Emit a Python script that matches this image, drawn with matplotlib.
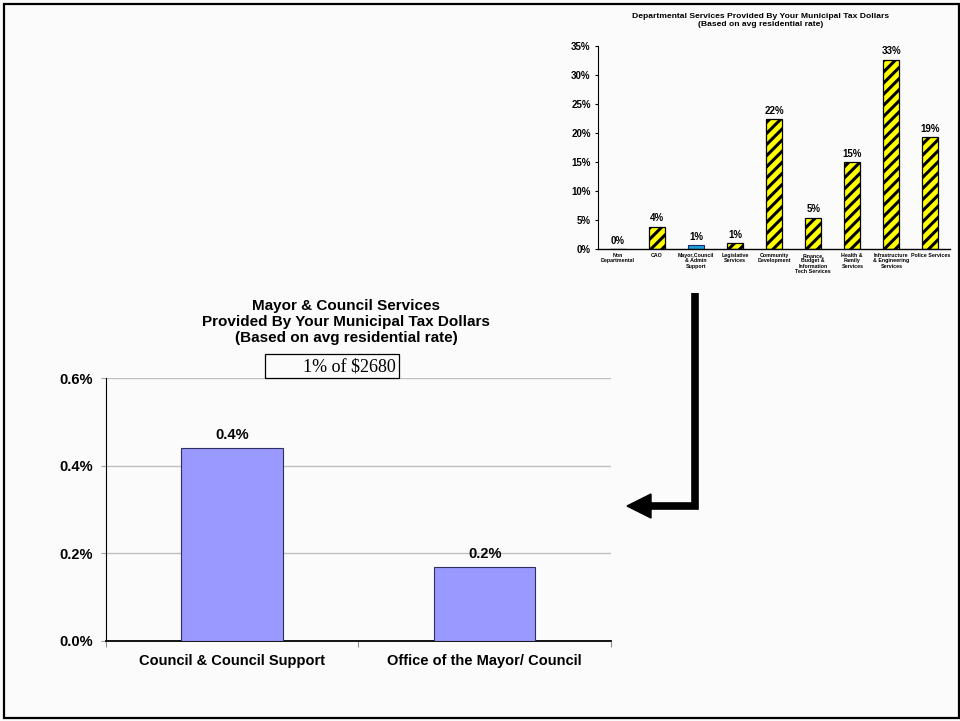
import matplotlib
matplotlib.use("Agg")
import matplotlib.pyplot as plt
from matplotlib.lines import Line2D
from matplotlib.patches import Polygon, Rectangle

plt.rcParams['font.family'] = ['Liberation Sans', 'DejaVu Sans']
plt.rcParams['hatch.linewidth'] = 2.2

# ---- data ----
dept_labels = ["Non\nDepartmental", "CAO", "Mayor,Council\n& Admin\nSupport",
               "Legislative\nServices", "Community\nDevelopment",
               "Finance,\nBudget &\nInformation\nTech Services",
               "Health &\nFamily\nServices",
               "Infrastructure\n& Engineering\nServices", "Police Services"]
dept_values = [0.0, 3.9, 0.74, 1.0, 22.4, 5.4, 15.0, 32.6, 19.3]
dept_highlight = 2

mc_labels = ["Council & Council Support", "Office of the Mayor/ Council"]
mc_values = [0.441, 0.169]

W, H = 960, 721
fig = plt.figure(figsize=(9.6, 7.21), dpi=100, facecolor='#fbfbfb')

def fx(px):
    return px / W

def fy(py):
    return 1 - py / H

# ---- top chart ----
ax1 = fig.add_axes([fx(598.3), fy(249.3), fx(950) - fx(598.3), fy(45.7) - fy(249.3)])
ax1.set_facecolor('none')
xs = list(range(len(dept_values)))
for i, v in enumerate(dept_values):
    if i == dept_highlight:
        ax1.bar(i, v, width=0.41, color='#1E9FE0', edgecolor='#1a2a60', linewidth=0.8)
    else:
        ax1.bar(i, v, width=0.41, color='#FFFF00', edgecolor='black', linewidth=0.9,
                hatch='///')
    ax1.annotate(f"{v:.0f}%", (i, v), xytext=(0, 2.5), textcoords='offset points',
                 ha='center', va='bottom', fontsize=7, fontweight='bold')
ax1.set_xlim(-0.5, len(dept_values) - 0.5)
ax1.set_ylim(0, 35)
ax1.set_yticks(range(0, 36, 5))
ax1.set_yticklabels([f"{t}%" for t in range(0, 36, 5)], fontsize=7, fontweight='bold')
ax1.set_xticks(xs)
ax1.set_xticklabels(dept_labels, fontsize=3.8, fontweight='bold', linespacing=1.1)
ax1.tick_params(axis='x', length=0, pad=2.5)
ax1.tick_params(axis='y', length=2.5, width=0.8, pad=3)
for s in ['top', 'right']:
    ax1.spines[s].set_visible(False)
ax1.spines['left'].set_linewidth(0.8)
ax1.spines['bottom'].set_linewidth(1.0)
fig.text(fx(761), fy(20.5), "Departmental Services Provided By Your Municipal Tax Dollars\n"
         "(Based on avg residential rate)", ha='center', va='center',
         fontsize=6.1, fontweight='bold', linespacing=1.15)

# ---- bottom chart ----
ax2 = fig.add_axes([fx(105.7), fy(641), fx(611) - fx(105.7), fy(378) - fy(641)])
ax2.set_facecolor('none')
ax2.bar(range(len(mc_values)), mc_values, width=0.4, color='#9999FF',
        edgecolor='#303060', linewidth=0.8, zorder=3)
for i, v in enumerate(mc_values):
    ax2.annotate(f"{v:.1f}%", (i, v), xytext=(0, 4), textcoords='offset points',
                 ha='center', va='bottom', fontsize=10.5, fontweight='bold')
ax2.set_xlim(-0.5, len(mc_values) - 0.5)
ax2.set_ylim(0, 0.6)
yt = [0.0, 0.2, 0.4, 0.6]
ax2.set_yticks(yt)
ax2.set_yticklabels([f"{t:.1f}%" for t in yt], fontsize=10.5, fontweight='bold')
ax2.yaxis.grid(True, color='#c0c0c0', linewidth=1.0, zorder=0)
ax2.set_axisbelow(True)
ax2.set_xticks([-0.5, 0.5, 1.5])
ax2.set_xticklabels([])
ax2.set_xticks(range(len(mc_labels)), minor=True)
ax2.set_xticklabels(mc_labels, minor=True, fontsize=10.5, fontweight='bold')
ax2.tick_params(axis='x', which='major', length=4, color='#909090')
ax2.tick_params(axis='x', which='minor', length=0, pad=9)
ax2.tick_params(axis='y', length=3.5, color='#a0a0a0', pad=6)
for s in ['top', 'right']:
    ax2.spines[s].set_visible(False)
ax2.spines['left'].set_linewidth(0.8)
ax2.spines['bottom'].set_linewidth(1.3)
fig.text(fx(346), fy(322), "Mayor & Council Services\nProvided By Your Municipal Tax Dollars\n"
         "(Based on avg residential rate)", ha='center', va='center',
         fontsize=11, fontweight='bold', linespacing=1.2)

# text box
fig.patches.append(Rectangle((fx(265), fy(378)), fx(399) - fx(265), fy(354) - fy(378),
                             transform=fig.transFigure, facecolor='none',
                             edgecolor='black', linewidth=0.9))
fig.text(fx(396), fy(367), "1% of $2680", ha='right', va='center', fontsize=13,
         family=['Liberation Serif', 'DejaVu Serif'])

# ---- arrow ----
fig.add_artist(Line2D([fx(695), fx(695), fx(648)], [fy(293), fy(506), fy(506)],
                      transform=fig.transFigure, color='black', linewidth=5.5,
                      solid_joinstyle='miter', solid_capstyle='butt'))
fig.add_artist(Polygon([[fx(627), fy(506)], [fx(651), fy(494)], [fx(651), fy(518)]],
                       closed=True, transform=fig.transFigure, facecolor='black',
                       edgecolor='black'))

# ---- frame ----
fig.add_artist(Rectangle((fx(4), fy(718)), fx(958.5) - fx(4), fy(3.5) - fy(718),
                         transform=fig.transFigure, facecolor='none',
                         edgecolor='black', linewidth=1.6))

fig.savefig("out.png", dpi=100, facecolor=fig.get_facecolor())
